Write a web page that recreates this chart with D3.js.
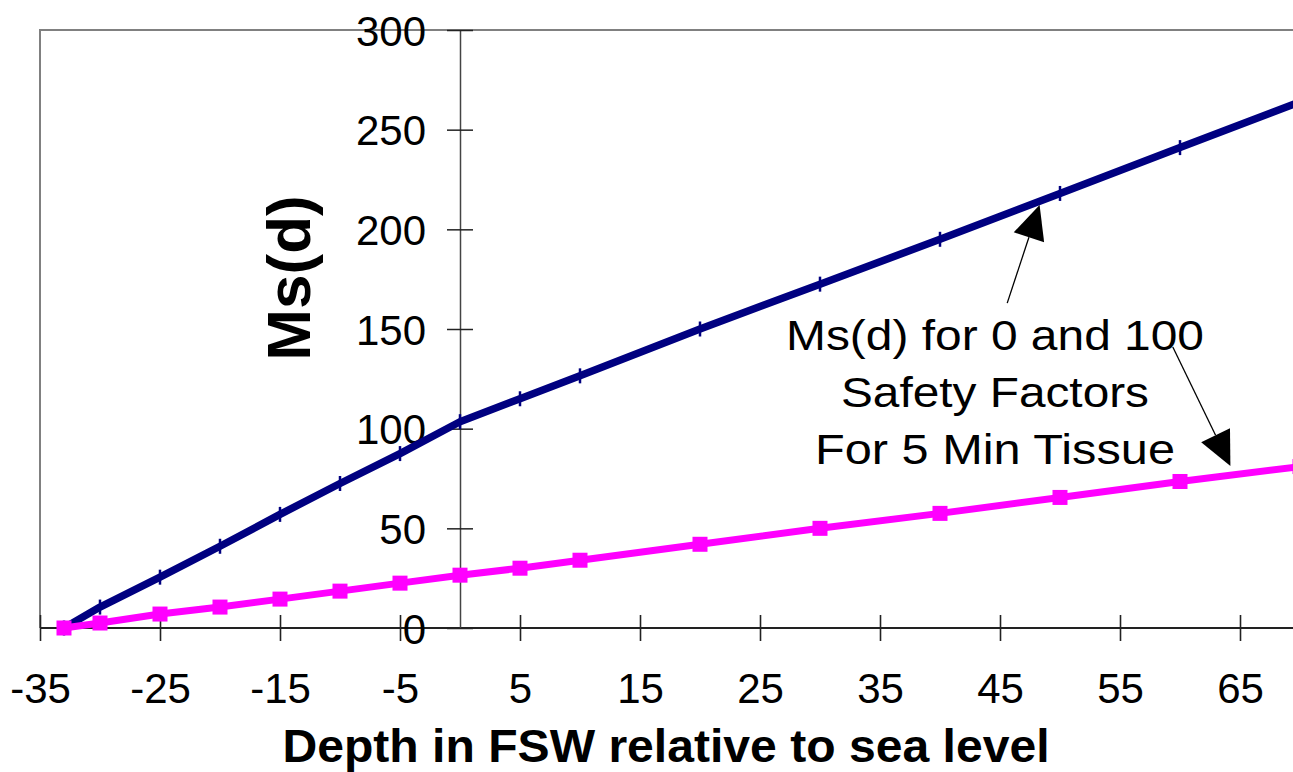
<!DOCTYPE html>
<html>
<head>
<meta charset="utf-8">
<script src="https://cdn.jsdelivr.net/npm/d3@7"></script>
<style>
  html, body { margin: 0; padding: 0; background: #fff; }
  svg { display: block; font-family: "Liberation Sans", Arial, Helvetica, sans-serif; }
</style>
</head>
<body>
<svg id="chart" width="1293" height="772"></svg>
<script>
// ---- data ----
const depths = [-33, -30, -25, -20, -15, -10, -5, 0, 5, 10, 20, 30, 40, 50, 60, 70];
const msSafety0 = [0, 10.5, 25.5, 41, 57, 72.5, 87.5, 103.5, 115, 126.5, 150, 172.5, 195, 218, 241, 264];
const msSafety100 = [0, 2.5, 7, 10.5, 14.5, 18.5, 22.5, 26.5, 30, 34, 42, 50, 57.5, 65.5, 73.5, 81];
const xTickValues = [-35, -25, -15, -5, 5, 15, 25, 35, 45, 55, 65];
const yTickValues = [0, 50, 100, 150, 200, 250, 300];
const xTitle = "Depth in FSW relative to sea level";
const yTitle = "Ms(d)";
const noteLines = ["Ms(d) for 0 and 100", "Safety Factors", "For 5 Min Tissue"];
// annotation arrows in data coordinates: [from, to]
const arrows = [
  [[45.6, 163], [48.3, 212.2]],
  [[59.4, 141], [64.2, 81.3]]
];

// ---- scales ----
const svg = d3.select("#chart");
const W = 1293;
const x = d3.scaleLinear().domain([-35, 70]).range([40, 1300]);
const y = d3.scaleLinear().domain([0, 300]).range([628, 30]);

svg.append("rect").attr("width", W).attr("height", 772).attr("fill", "#fff");

// frame (top + left)
svg.append("path")
  .attr("d", `M${x(-35)},${y(0)} V${y(300)} H${W + 5}`)
  .attr("fill", "none").attr("stroke", "#808080").attr("stroke-width", 2);

// x axis with crossing ticks
const xAxis = svg.append("g").attr("transform", `translate(0,${y(0)})`)
  .call(d3.axisBottom(x).tickValues(xTickValues).tickSize(13).tickSizeOuter(0).tickFormat(d3.format("d")));
xAxis.select(".domain").attr("stroke", "#222").attr("stroke-width", 1.8)
  .attr("d", `M${x(-35)},0H${W + 5}`);
xAxis.selectAll(".tick line").attr("y1", -13).attr("y2", 13).attr("stroke", "#222").attr("stroke-width", 1.6);
xAxis.selectAll(".tick text").attr("y", 75).attr("dy", 0)
  .attr("font-size", 42).attr("fill", "#000").attr("font-family", "Liberation Sans, Arial, sans-serif")
  .text(d => d < 0 ? "-" + Math.abs(d) : d);

// y axis with crossing ticks
const yAxis = svg.append("g").attr("transform", `translate(${x(0)},0)`)
  .call(d3.axisLeft(y).tickValues(yTickValues).tickSize(13).tickSizeOuter(0));
yAxis.select(".domain").attr("stroke", "#444").attr("stroke-width", 1.5);
yAxis.selectAll(".tick line").attr("x1", -13).attr("x2", 13).attr("stroke", "#222").attr("stroke-width", 1.5);
yAxis.selectAll(".tick text").attr("x", -34).attr("dy", 15)
  .attr("font-size", 42).attr("fill", "#000").attr("font-family", "Liberation Sans, Arial, sans-serif");

// series
const line = d3.line().x(d => x(d[0])).y(d => y(d[1]));
const blue = depths.map((d, i) => [d, msSafety0[i]]);
const pink = depths.map((d, i) => [d, msSafety100[i]]);

svg.append("path").datum(blue).attr("d", line)
  .attr("fill", "none").attr("stroke", "#000080").attr("stroke-width", 7.5).attr("stroke-linejoin", "round");
svg.append("g").selectAll("line").data(blue).enter().append("line")
  .attr("x1", d => x(d[0])).attr("x2", d => x(d[0]))
  .attr("y1", d => y(d[1]) - 7.5).attr("y2", d => y(d[1]) + 7.5)
  .attr("stroke", "#000080").attr("stroke-width", 2.5);

svg.append("path").datum(pink).attr("d", line)
  .attr("fill", "none").attr("stroke", "#FF00FF").attr("stroke-width", 7).attr("stroke-linejoin", "round");
svg.append("g").selectAll("rect").data(pink).enter().append("rect")
  .attr("x", d => x(d[0]) - 7.5).attr("y", d => y(d[1]) - 7.5)
  .attr("width", 15).attr("height", 15).attr("fill", "#FF00FF");

// axis titles
svg.append("text").attr("x", 666).attr("y", 762).attr("text-anchor", "middle")
  .attr("font-size", 47).attr("font-weight", "bold").attr("fill", "#000")
  .attr("textLength", 767).attr("lengthAdjust", "spacingAndGlyphs").text(xTitle);
svg.append("text").attr("transform", "translate(310,278) rotate(-90)").attr("text-anchor", "middle")
  .attr("font-size", 62).attr("font-weight", "bold").attr("fill", "#000").text(yTitle);

// annotation text
const noteWidths = [418, 308, 360];
const noteBase = [350, 407, 464];
noteLines.forEach((t, i) => {
  svg.append("text").attr("x", 995).attr("y", noteBase[i]).attr("text-anchor", "middle")
    .attr("font-size", 42).attr("fill", "#000")
    .attr("textLength", noteWidths[i]).attr("lengthAdjust", "spacingAndGlyphs")
    .text(t);
});

// arrows
arrows.forEach(([a, b]) => {
  const x1 = x(a[0]), y1 = y(a[1]), x2 = x(b[0]), y2 = y(b[1]);
  const dx = x2 - x1, dy = y2 - y1, len = Math.hypot(dx, dy);
  const ux = dx / len, uy = dy / len;
  const hl = 34, hw = 16;
  const bx = x2 - ux * hl, by = y2 - uy * hl;
  svg.append("line").attr("x1", x1).attr("y1", y1).attr("x2", bx).attr("y2", by)
    .attr("stroke", "#000").attr("stroke-width", 1.3);
  svg.append("polygon")
    .attr("points", [[x2, y2], [bx - uy * hw, by + ux * hw], [bx + uy * hw, by - ux * hw]].map(p => p.join(",")).join(" "))
    .attr("fill", "#000");
});
</script>
</body>
</html>
